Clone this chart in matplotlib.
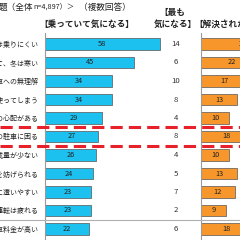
import matplotlib
matplotlib.use('Agg')
import matplotlib.pyplot as plt
import matplotlib.transforms as mtrans
from matplotlib.lines import Line2D

plt.rcParams['font.family'] = ['Noto Sans CJK JP', 'DejaVu Sans']

# Datos (recortada)
etiquetas = ['雨の日は乗りにくい', '夏は暑くて、冬は寒い', '自転車への無理解',
             'ついお金を使ってしまう', '盗難の心配がある', '外出先での駐車に困る',
             '荷物の積載量が少ない', '歩行者に通行を妨げられる', '事故に遭いやすい',
             '長距離の運転は疲れる', '駐車料金が高い']
乗って = [58, 45, 34, 34, 29, 27, 26, 24, 23, 23, 22]
最も = [14, 6, 10, 8, 4, 8, 4, 5, 7, 2, 6]
解決 = [30, 22, 17, 13, 10, 18, 10, 13, 12, 9, 18]

CIAN = '#1CC1EF'
NARANJA = '#F7962A'
ROJO = '#E8202A'
GRIS = '#9A9A9A'
TXT = '#222222'

fig = plt.figure(figsize=(2.4, 2.4), dpi=100)
W = H = 240.0

# escala: fila 0 en y=44px, 18.5px por fila
y0, paso = 44.0, 18.5
ytop, ybot = -(y0 - 33) / paso, (H - y0) / paso

ax1 = fig.add_axes([45 / W, 0, 155 / W, 207 / H])
ax1.set_xlim(0, 155 / 1.98)
ax2 = fig.add_axes([201 / W, 0, 39 / W, 207 / H])
ax2.set_xlim(0, 39 / 2.8)

filas = list(range(len(etiquetas)))
for ax in (ax1, ax2):
    ax.set_ylim(ybot, ytop)
    for s in ('top', 'right', 'bottom'):
        ax.spines[s].set_visible(False)
    ax.spines['left'].set_color(GRIS)
    ax.spines['left'].set_linewidth(0.8)
    ax.set_xticks([])
    ax.patch.set_alpha(0)

ax1.barh(filas, 乗って, height=0.6, color=CIAN, edgecolor='#555555', linewidth=0.5)
ax2.barh(filas, 解決, height=0.6, color=NARANJA, edgecolor='#555555', linewidth=0.5)

ax1.set_yticks(filas)
ax1.set_yticklabels(etiquetas, fontsize=5.0, color=TXT)
ax1.tick_params(axis='y', length=0, pad=4.5)
ax2.set_yticks([])

for i, v in enumerate(乗って):
    ax1.text(v / 2, i, str(v), ha='center', va='center', fontsize=5.3, color=TXT)
for i, v in enumerate(解決):
    ax2.text(v / 2, i, str(v), ha='center', va='center', fontsize=5.3,
             color=TXT, clip_on=True)

tr = mtrans.blended_transform_factory(fig.transFigure, ax1.transData)
for i, v in enumerate(最も):
    fig.text(176 / W, i, str(v), transform=tr, ha='center', va='center',
             fontsize=5.6, color='#333333')

# separadores
fig.add_artist(Line2D([0, 1], [9.5, 9.5], transform=tr, color='#B0B0B0', lw=0.8))
for yy in (4.5, 5.5):
    fig.add_artist(Line2D([0, 1], [yy, yy], transform=tr, color=ROJO, lw=2.2,
                          dashes=(4, 2)))

# titulos
fig.text(-1 / W, 1 - 7 / H, '題（全体', fontsize=6.2, va='center', ha='left', color=TXT)
fig.text(33 / W, 1 - 7 / H, 'n=4,897）＞', fontsize=5.2, va='center',
         ha='left', color=TXT)
fig.text(79 / W, 1 - 7 / H, '（複数回答）', fontsize=6.2, va='center',
         ha='left', color=TXT)
fig.text(39 / W, 1 - 24 / H, '【乗っていて気になる】', fontsize=6.2, fontweight='bold',
         va='center', ha='left', color=TXT)
fig.text(159 / W, 1 - 12 / H, '【最も', fontsize=6.2, fontweight='bold',
         va='center', ha='left', color=TXT)
fig.text(154 / W, 1 - 24 / H, '気になる】', fontsize=6.2, fontweight='bold',
         va='center', ha='left', color=TXT)
fig.text(194 / W, 1 - 24 / H, '【解決されたら', fontsize=6.2, fontweight='bold',
         va='center', ha='left', color=TXT)

fig.savefig('out.png', dpi=100)
